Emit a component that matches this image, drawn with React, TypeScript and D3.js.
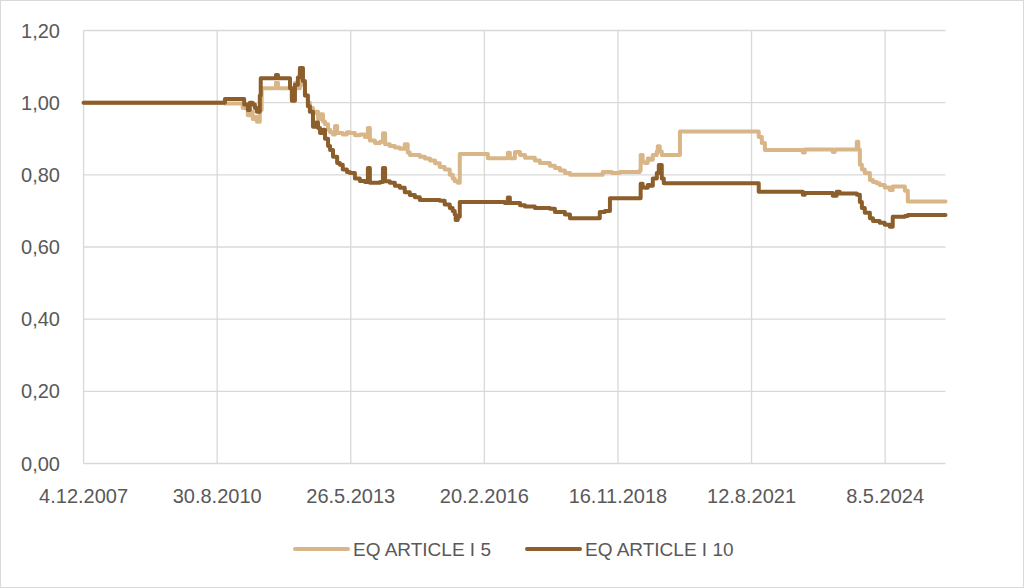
import React from "react";
import * as d3 from "d3";

const seriesNames = ["EQ ARTICLE I 5", "EQ ARTICLE I 10"];
const seriesColors = ["#D9B688", "#8B5E2C"];

const tickDates = ["2007-12-04", "2010-08-30", "2013-05-26", "2016-02-20", "2018-11-16", "2021-08-12", "2024-05-08"];
const tickLabels = ["4.12.2007", "30.8.2010", "26.5.2013", "20.2.2016", "16.11.2018", "12.8.2021", "8.5.2024"];
const yTicks = [0, 0.2, 0.4, 0.6, 0.8, 1.0, 1.2];
const axisStart = "2007-12-04";
const axisEnd = "2025-08-03";

const art5: [string, number][] = [
  ["2007-12-04", 1.0], ["2010-10-27", 0.998], ["2011-03-09", 0.985], ["2011-04-16", 0.965],
  ["2011-05-01", 0.975], ["2011-05-23", 0.955], ["2011-06-08", 0.96], ["2011-06-23", 0.947],
  ["2011-07-15", 0.98], ["2011-07-29", 1.04], ["2011-11-13", 1.055], ["2011-11-28", 1.04],
  ["2012-03-11", 1.01], ["2012-04-03", 1.055], ["2012-04-25", 1.04], ["2012-05-10", 1.085],
  ["2012-06-02", 1.05], ["2012-06-17", 1.02], ["2012-07-09", 1.0], ["2012-07-24", 0.985],
  ["2012-08-16", 0.971], ["2012-08-31", 0.975], ["2012-09-23", 0.955], ["2012-10-08", 0.968],
  ["2012-10-30", 0.948], ["2012-11-14", 0.94], ["2012-12-07", 0.925], ["2012-12-22", 0.918],
  ["2013-01-13", 0.912], ["2013-01-28", 0.935], ["2013-02-13", 0.916], ["2013-03-27", 0.912],
  ["2013-04-27", 0.918], ["2013-05-19", 0.916], ["2013-06-26", 0.91], ["2013-08-02", 0.912],
  ["2013-09-09", 0.905], ["2013-09-24", 0.912], ["2013-10-01", 0.93], ["2013-10-16", 0.895],
  ["2013-11-23", 0.888], ["2014-01-01", 0.892], ["2014-01-22", 0.915], ["2014-02-07", 0.885],
  ["2014-03-14", 0.88], ["2014-04-21", 0.876], ["2014-05-28", 0.872], ["2014-07-04", 0.885],
  ["2014-07-26", 0.862], ["2014-08-11", 0.855], ["2014-10-25", 0.85], ["2014-12-02", 0.845],
  ["2015-01-09", 0.84], ["2015-02-16", 0.832], ["2015-03-23", 0.822], ["2015-04-29", 0.815],
  ["2015-06-06", 0.8], ["2015-06-28", 0.79], ["2015-07-13", 0.782], ["2015-08-05", 0.778],
  ["2015-08-20", 0.858], ["2016-03-17", 0.846], ["2016-08-14", 0.861], ["2016-08-29", 0.846],
  ["2016-10-06", 0.863], ["2016-11-13", 0.855], ["2016-12-20", 0.847], ["2017-03-04", 0.84],
  ["2017-04-11", 0.833], ["2017-06-24", 0.825], ["2017-08-01", 0.819], ["2017-09-08", 0.812],
  ["2017-10-15", 0.805], ["2017-11-22", 0.8], ["2018-07-03", 0.8], ["2018-07-25", 0.808],
  ["2018-10-02", 0.805], ["2018-12-01", 0.808], ["2019-04-28", 0.812], ["2019-05-05", 0.855],
  ["2019-05-20", 0.835], ["2019-06-05", 0.833], ["2019-06-27", 0.845], ["2019-07-12", 0.842],
  ["2019-08-04", 0.855], ["2019-09-03", 0.865], ["2019-09-10", 0.879], ["2019-09-25", 0.865],
  ["2019-10-10", 0.855], ["2020-02-23", 0.92], ["2021-09-28", 0.92], ["2021-10-05", 0.905],
  ["2021-10-28", 0.888], ["2021-11-20", 0.869], ["2022-08-31", 0.862], ["2022-09-15", 0.87],
  ["2023-04-12", 0.863], ["2023-04-27", 0.87], ["2023-10-09", 0.892], ["2023-10-20", 0.87],
  ["2023-11-01", 0.828], ["2023-11-16", 0.815], ["2023-12-08", 0.805], ["2024-01-15", 0.786],
  ["2024-02-07", 0.78], ["2024-03-06", 0.777], ["2024-03-28", 0.772], ["2024-05-05", 0.765],
  ["2024-06-12", 0.758], ["2024-07-04", 0.768], ["2024-08-26", 0.768], ["2024-10-03", 0.756],
  ["2024-10-25", 0.726], ["2025-08-03", 0.726],
];

const art10: [string, number][] = [
  ["2007-12-04", 1.0], ["2010-10-27", 1.01], ["2011-03-20", 0.995], ["2011-04-16", 0.98],
  ["2011-05-01", 1.0], ["2011-05-23", 0.995], ["2011-06-08", 0.985], ["2011-06-23", 0.975],
  ["2011-07-15", 1.02], ["2011-07-22", 1.068], ["2011-11-13", 1.077], ["2011-11-28", 1.068],
  ["2012-02-26", 1.04], ["2012-03-11", 1.005], ["2012-04-03", 1.05], ["2012-04-25", 1.07],
  ["2012-05-10", 1.096], ["2012-06-02", 1.06], ["2012-06-17", 1.02], ["2012-07-09", 0.99],
  ["2012-07-24", 0.975], ["2012-08-16", 0.933], ["2012-09-08", 0.945], ["2012-09-23", 0.93],
  ["2012-10-08", 0.916], ["2012-10-30", 0.925], ["2012-11-14", 0.9], ["2012-12-07", 0.88],
  ["2012-12-22", 0.869], ["2013-01-13", 0.85], ["2013-02-13", 0.833], ["2013-03-05", 0.828],
  ["2013-03-27", 0.815], ["2013-04-27", 0.808], ["2013-05-19", 0.805], ["2013-06-26", 0.79],
  ["2013-08-02", 0.783], ["2013-09-09", 0.78], ["2013-10-01", 0.819], ["2013-10-16", 0.778],
  ["2014-01-01", 0.78], ["2014-01-22", 0.819], ["2014-02-07", 0.782], ["2014-03-14", 0.778],
  ["2014-04-21", 0.77], ["2014-05-28", 0.764], ["2014-07-04", 0.752], ["2014-08-11", 0.744],
  ["2014-09-18", 0.738], ["2014-10-25", 0.73], ["2015-03-23", 0.728], ["2015-04-29", 0.718],
  ["2015-06-06", 0.708], ["2015-06-28", 0.7], ["2015-07-13", 0.69], ["2015-07-20", 0.675],
  ["2015-08-05", 0.684], ["2015-08-20", 0.725], ["2016-07-22", 0.722], ["2016-08-14", 0.737],
  ["2016-08-29", 0.722], ["2016-11-13", 0.716], ["2016-12-20", 0.712], ["2017-03-04", 0.708],
  ["2017-06-24", 0.706], ["2017-08-01", 0.697], ["2017-10-15", 0.69], ["2017-11-22", 0.68],
  ["2018-07-03", 0.697], ["2018-08-10", 0.7], ["2018-09-17", 0.735], ["2019-04-28", 0.735],
  ["2019-05-05", 0.775], ["2019-05-20", 0.765], ["2019-06-05", 0.764], ["2019-06-27", 0.772],
  ["2019-07-12", 0.77], ["2019-08-04", 0.79], ["2019-09-03", 0.805], ["2019-09-18", 0.827],
  ["2019-10-10", 0.79], ["2019-10-25", 0.777], ["2021-09-28", 0.777], ["2021-10-05", 0.753],
  ["2022-08-31", 0.745], ["2022-09-15", 0.75], ["2023-04-12", 0.742], ["2023-05-11", 0.753],
  ["2023-06-03", 0.748], ["2023-10-09", 0.745], ["2023-11-01", 0.725], ["2023-11-16", 0.708],
  ["2023-12-08", 0.695], ["2024-01-15", 0.68], ["2024-02-07", 0.672], ["2024-03-28", 0.667],
  ["2024-05-05", 0.662], ["2024-06-12", 0.656], ["2024-07-04", 0.684], ["2024-10-03", 0.686],
  ["2024-10-25", 0.689], ["2025-08-03", 0.689],
];

const parse = d3.timeParse("%Y-%m-%d");
const W = 1024;
const H = 588;
const FONT = "'Liberation Sans', Arial, sans-serif";
const TEXT = "#595959";
const GRID = "#D9D9D9";

export default function App() {
  const x = d3.scaleTime().domain([parse(axisStart)!, parse(axisEnd)!]).range([83.6, 945.5]);
  const y = d3.scaleLinear().domain([0, 1.2]).range([463.5, 30.5]);
  const line = d3
    .line<[string, number]>()
    .x((d) => x(parse(d[0])!))
    .y((d) => y(d[1]))
    .curve(d3.curveStepAfter);
  const series = [art5, art10];
  const legendX = [295, 527];

  return (
    <svg width={W} height={H} style={{ position: "absolute", left: 0, top: 0, background: "#fff" }}>
      <rect x={0.5} y={0.5} width={W - 1} height={H - 1} fill="#fff" stroke={GRID} strokeWidth={1} />
      {yTicks.map((t) => (
        <line key={"h" + t} x1={x.range()[0]} x2={x.range()[1]} y1={y(t)} y2={y(t)} stroke={GRID} strokeWidth={1.3} />
      ))}
      {tickDates.map((d) => (
        <line key={"v" + d} x1={x(parse(d)!)} x2={x(parse(d)!)} y1={y(1.2)} y2={y(0)} stroke={GRID} strokeWidth={1.3} />
      ))}
      {yTicks.map((t) => (
        <text key={"yl" + t} x={60} y={y(t)} dy="0.35em" textAnchor="end" fontFamily={FONT} fontSize={20} fill={TEXT}>
          {t.toFixed(2).replace(".", ",")}
        </text>
      ))}
      {tickDates.map((d, i) => (
        <text key={"xl" + d} x={x(parse(d)!)} y={502.5} textAnchor="middle" fontFamily={FONT} fontSize={20} fill={TEXT}>
          {tickLabels[i]}
        </text>
      ))}
      {series.map((s, i) => (
        <path key={"s" + i} d={line(s) || ""} fill="none" stroke={seriesColors[i]} strokeWidth={4} strokeLinejoin="round" strokeLinecap="round" />
      ))}
      {seriesNames.map((n, i) => (
        <g key={"lg" + i}>
          <line x1={legendX[i]} x2={legendX[i] + 53} y1={549} y2={549} stroke={seriesColors[i]} strokeWidth={4} strokeLinecap="round" />
          <text x={legendX[i] + 58} y={549} dy="0.35em" fontFamily={FONT} fontSize={19} fill={TEXT}>
            {n}
          </text>
        </g>
      ))}
    </svg>
  );
}
